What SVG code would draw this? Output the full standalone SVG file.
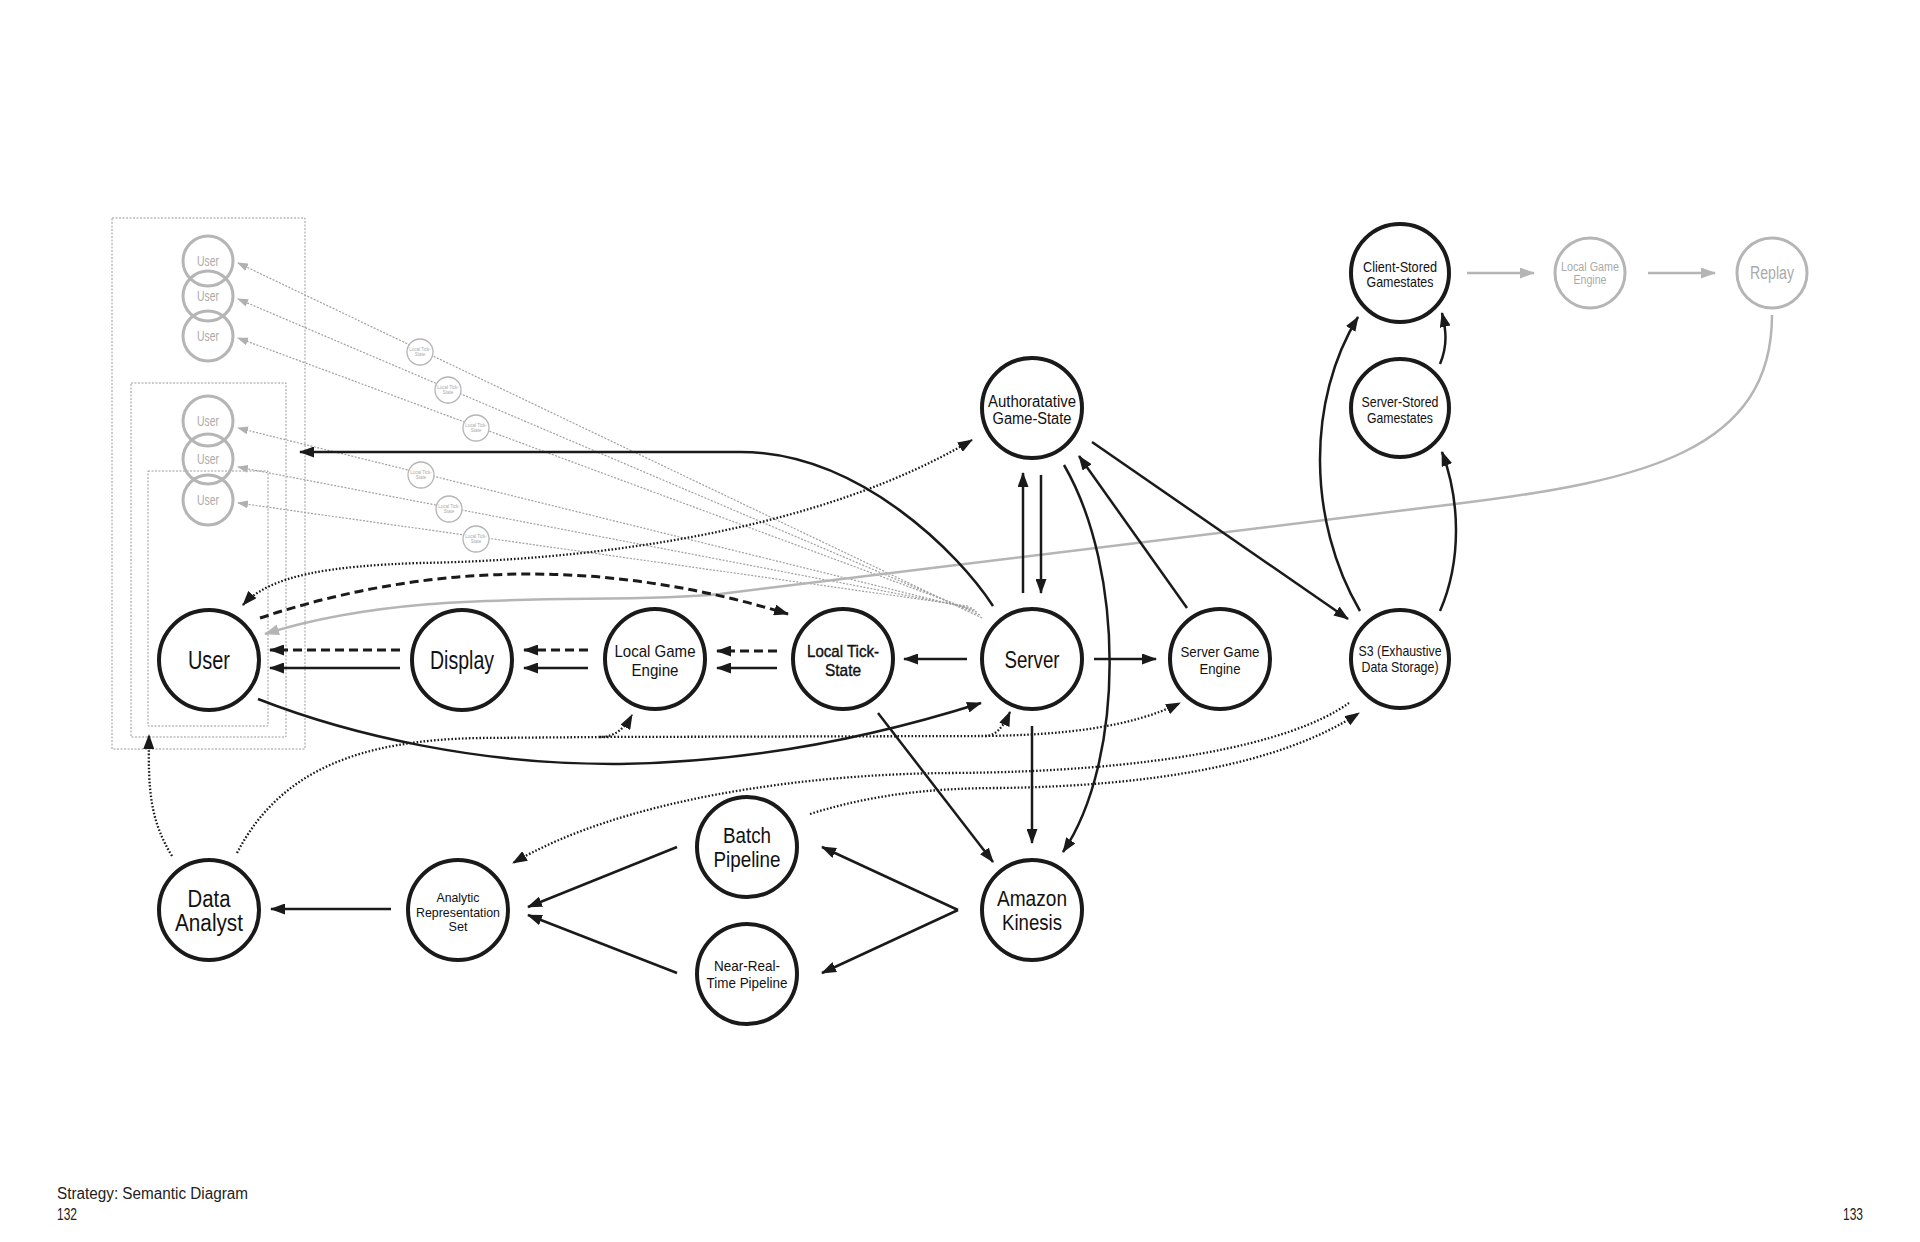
<svg xmlns="http://www.w3.org/2000/svg" width="1920" height="1242" viewBox="0 0 1920 1242">
<style>
.bg{fill:#fff}
.node circle{fill:#fff;stroke:#1a1a1a;stroke-width:4}
.gnode circle{fill:none;stroke:#b5b5b5;stroke-width:3}
.tnode circle{fill:#fff;stroke:#b5b5b5;stroke-width:1.3}
.lbl{font-family:"Liberation Sans",Arial,sans-serif;fill:#111;text-anchor:middle}
.glbl{font-family:"Liberation Sans",Arial,sans-serif;fill:#aaa;text-anchor:middle}
.tlbl{font-family:"Liberation Sans",Arial,sans-serif;fill:#aaa;text-anchor:middle;font-size:4.5px}
.ln{fill:none;stroke:#1a1a1a;stroke-width:2.5}
.dash{stroke-dasharray:9 5;stroke-width:3}
.dot{stroke-dasharray:1.6 1.9;stroke-width:2.3}
.gln{fill:none;stroke:#b5b5b5;stroke-width:2.5}
.gdot{fill:none;stroke:#a0a0a0;stroke-width:1.2;stroke-dasharray:2 1.5}
.box{fill:none;stroke:#9a9a9a;stroke-width:1;stroke-dasharray:2 1.5}
.foot{font-family:"Liberation Sans",Arial,sans-serif;fill:#222;font-size:16px}
</style>
<defs>
<marker id="ah" markerUnits="userSpaceOnUse" viewBox="0 0 15 11" markerWidth="15" markerHeight="11" refX="14" refY="5.5" orient="auto-start-reverse"><path d="M0,0 L15,5.5 L0,11 z" fill="#1a1a1a"/></marker>
<marker id="ahg" markerUnits="userSpaceOnUse" viewBox="0 0 15 11" markerWidth="15" markerHeight="11" refX="14" refY="5.5" orient="auto-start-reverse"><path d="M0,0 L15,5.5 L0,11 z" fill="#b5b5b5"/></marker>
<marker id="ahs" markerUnits="userSpaceOnUse" viewBox="0 0 11 8" markerWidth="11" markerHeight="8" refX="10" refY="4" orient="auto"><path d="M0,0 L11,4 L0,8 z" fill="#b0b0b0"/></marker>
</defs>
<rect class="bg" x="0" y="0" width="1920" height="1242"/>

<g id="boxes">
<rect class="box" x="112" y="218" width="193" height="531"/>
<rect class="box" x="131" y="383" width="155" height="354"/>
<rect class="box" x="148" y="471" width="120" height="255"/>
</g>

<g id="connectors">
<!-- gray dotted server -> gray users -->
<path class="gdot" d="M982,618 L238,263" marker-end="url(#ahs)"/>
<path class="gdot" d="M980,615 L238,299" marker-end="url(#ahs)"/>
<path class="gdot" d="M977,612 L238,338" marker-end="url(#ahs)"/>
<path class="gdot" d="M975,610 L238,428" marker-end="url(#ahs)"/>
<path class="gdot" d="M972,608 L238,467" marker-end="url(#ahs)"/>
<path class="gdot" d="M968,606 L238,503" marker-end="url(#ahs)"/>

<!-- gray replay chain -->
<path class="gln" d="M1467,273 L1534,273" marker-end="url(#ahg)"/>
<path class="gln" d="M1648,273 L1715,273" marker-end="url(#ahg)"/>
<path class="gln" d="M1772,315 C1772,450 1645,481 1455,504 L720,594 C600,606 420,585 265,634" marker-end="url(#ahg)"/>

<!-- horizontal row -->
<path class="ln dash" d="M400,650 L270,650" marker-end="url(#ah)"/>
<path class="ln" d="M400,668 L270,668" marker-end="url(#ah)"/>
<path class="ln dash" d="M588,650 L524,650" marker-end="url(#ah)"/>
<path class="ln" d="M588,668 L524,668" marker-end="url(#ah)"/>
<path class="ln dash" d="M777,651 L717,651" marker-end="url(#ah)"/>
<path class="ln" d="M777,668 L717,668" marker-end="url(#ah)"/>
<path class="ln" d="M967,659 L904,659" marker-end="url(#ah)"/>
<path class="ln" d="M1094,659 L1156,659" marker-end="url(#ah)"/>

<!-- server / auth -->
<path class="ln" d="M1023,593 L1023,473" marker-end="url(#ah)"/>
<path class="ln" d="M1041,475 L1041,593" marker-end="url(#ah)"/>
<path class="ln" d="M1032,726 L1032,843" marker-end="url(#ah)"/>
<path class="ln" d="M1064,465 C1125,570 1125,760 1063,852" marker-end="url(#ah)"/>
<path class="ln" d="M1187,608 L1079,456" marker-end="url(#ah)"/>
<path class="ln" d="M1092,442 L1348,619" marker-end="url(#ah)"/>
<path class="ln" d="M878,713 L993,862" marker-end="url(#ah)"/>

<!-- S3 / stored -->
<path class="ln" d="M1360,611 C1307,520 1307,400 1358,317" marker-end="url(#ah)"/>
<path class="ln" d="M1440,611 C1462,560 1460,500 1442,452" marker-end="url(#ah)"/>
<path class="ln" d="M1440,364 C1448,345 1446,330 1442,313" marker-end="url(#ah)"/>

<!-- server -> user (top) -->
<path class="ln" d="M993,606 C960,555 860,452 740,452 L300,452" marker-end="url(#ah)"/>
<!-- user -> local tick dashed -->
<path class="ln dash" d="M260,618 Q520,532 788,614" marker-end="url(#ah)"/>
<!-- user <-> auth dotted -->
<path class="ln dot" d="M243,605 C270,575 330,566 420,563 C600,560 820,530 972,440" marker-start="url(#ah)" marker-end="url(#ah)"/>
<!-- user -> server solid -->
<path class="ln" d="M258,699 C350,735 480,765 620,764 C760,762 880,735 981,703" marker-end="url(#ah)"/>

<!-- data analyst dotted -->
<path class="ln dot" d="M172,856 C150,820 148,790 149,735" marker-end="url(#ah)"/>
<path class="ln dot" d="M237,853 C280,770 360,740 480,738 L600,737 C615,737 625,728 632,715" marker-end="url(#ah)"/>
<path class="ln dot" d="M600,737 L985,736 C995,736 1003,728 1010,712" marker-end="url(#ah)"/>
<path class="ln dot" d="M985,736 C1060,735 1130,728 1180,703" marker-end="url(#ah)"/>

<!-- S3 <-> pipelines dotted -->
<path class="ln dot" d="M1349,703 C1290,745 1150,772 950,773 C800,774 620,800 513,863" marker-end="url(#ah)"/>
<path class="ln dot" d="M810,814 C870,795 930,788 1000,788 C1150,786 1280,765 1359,713" marker-end="url(#ah)"/>

<!-- pipelines -->
<path class="ln" d="M677,847 L528,907" marker-end="url(#ah)"/>
<path class="ln" d="M677,973 L528,915" marker-end="url(#ah)"/>
<path class="ln" d="M958,910 L822,847" marker-end="url(#ah)"/>
<path class="ln" d="M958,910 L822,973" marker-end="url(#ah)"/>
<path class="ln" d="M391,909 L271,909" marker-end="url(#ah)"/>
</g>

<g id="gray-users">
<g id="guser1" class="gnode"><circle cx="208" cy="261" r="25"/><text class="glbl" x="208" y="266" font-size="14" textLength="22" lengthAdjust="spacingAndGlyphs">User</text></g>
<g id="guser2" class="gnode"><circle cx="208" cy="296" r="25"/><text class="glbl" x="208" y="301" font-size="14" textLength="22" lengthAdjust="spacingAndGlyphs">User</text></g>
<g id="guser3" class="gnode"><circle cx="208" cy="336" r="25"/><text class="glbl" x="208" y="341" font-size="14" textLength="22" lengthAdjust="spacingAndGlyphs">User</text></g>
<g id="guser4" class="gnode"><circle cx="208" cy="421" r="25"/><text class="glbl" x="208" y="426" font-size="14" textLength="22" lengthAdjust="spacingAndGlyphs">User</text></g>
<g id="guser5" class="gnode"><circle cx="208" cy="459" r="25"/><text class="glbl" x="208" y="464" font-size="14" textLength="22" lengthAdjust="spacingAndGlyphs">User</text></g>
<g id="guser6" class="gnode"><circle cx="208" cy="500" r="25"/><text class="glbl" x="208" y="505" font-size="14" textLength="22" lengthAdjust="spacingAndGlyphs">User</text></g>
</g>

<g id="tick-states">
<g id="tick1" class="tnode"><circle cx="420" cy="352" r="13"/><text class="tlbl" x="420" y="351">Local Tick-</text><text class="tlbl" x="420" y="356">State</text></g>
<g id="tick2" class="tnode"><circle cx="448" cy="390" r="13"/><text class="tlbl" x="448" y="389">Local Tick-</text><text class="tlbl" x="448" y="394">State</text></g>
<g id="tick3" class="tnode"><circle cx="476" cy="428" r="13"/><text class="tlbl" x="476" y="427">Local Tick-</text><text class="tlbl" x="476" y="432">State</text></g>
<g id="tick4" class="tnode"><circle cx="421" cy="475" r="13"/><text class="tlbl" x="421" y="474">Local Tick-</text><text class="tlbl" x="421" y="479">State</text></g>
<g id="tick5" class="tnode"><circle cx="449" cy="509" r="13"/><text class="tlbl" x="449" y="508">Local Tick-</text><text class="tlbl" x="449" y="513">State</text></g>
<g id="tick6" class="tnode"><circle cx="476" cy="539" r="13"/><text class="tlbl" x="476" y="538">Local Tick-</text><text class="tlbl" x="476" y="543">State</text></g>
</g>

<g id="user" class="node"><circle cx="209" cy="660" r="50"/><text class="lbl" x="209" y="669" font-size="25" textLength="42" lengthAdjust="spacingAndGlyphs">User</text></g>
<g id="display" class="node"><circle cx="462" cy="660" r="50"/><text class="lbl" x="462" y="669" font-size="25" textLength="64" lengthAdjust="spacingAndGlyphs">Display</text></g>
<g id="local-game-engine" class="node"><circle cx="655" cy="659" r="50"/><text class="lbl" x="655" y="657" font-size="17" textLength="81" lengthAdjust="spacingAndGlyphs">Local Game</text><text class="lbl" x="655" y="676" font-size="17" textLength="47" lengthAdjust="spacingAndGlyphs">Engine</text></g>
<g id="local-tick-state" class="node"><circle cx="843" cy="659" r="50"/><text class="lbl" x="843" y="657" font-size="17" stroke="#111" stroke-width="0.4" textLength="72" lengthAdjust="spacingAndGlyphs">Local Tick-</text><text class="lbl" x="843" y="676" font-size="17" stroke="#111" stroke-width="0.4" textLength="36" lengthAdjust="spacingAndGlyphs">State</text></g>
<g id="server" class="node"><circle cx="1032" cy="659" r="50"/><text class="lbl" x="1032" y="668" font-size="24" textLength="55" lengthAdjust="spacingAndGlyphs">Server</text></g>
<g id="server-game-engine" class="node"><circle cx="1220" cy="659" r="50"/><text class="lbl" x="1220" y="657" font-size="15" textLength="79" lengthAdjust="spacingAndGlyphs">Server Game</text><text class="lbl" x="1220" y="674" font-size="15" textLength="41" lengthAdjust="spacingAndGlyphs">Engine</text></g>
<g id="s3" class="node"><circle cx="1400" cy="659" r="49"/><text class="lbl" x="1400" y="656" font-size="15" textLength="83" lengthAdjust="spacingAndGlyphs">S3 (Exhaustive</text><text class="lbl" x="1400" y="672" font-size="15" textLength="77" lengthAdjust="spacingAndGlyphs">Data Storage)</text></g>
<g id="authoratative-game-state" class="node"><circle cx="1032" cy="408" r="50"/><text class="lbl" x="1032" y="407" font-size="16" textLength="88" lengthAdjust="spacingAndGlyphs">Authoratative</text><text class="lbl" x="1032" y="424" font-size="16" textLength="79" lengthAdjust="spacingAndGlyphs">Game-State</text></g>
<g id="server-stored" class="node"><circle cx="1400" cy="408" r="49"/><text class="lbl" x="1400" y="407" font-size="15" textLength="77" lengthAdjust="spacingAndGlyphs">Server-Stored</text><text class="lbl" x="1400" y="423" font-size="15" textLength="66" lengthAdjust="spacingAndGlyphs">Gamestates</text></g>
<g id="client-stored" class="node"><circle cx="1400" cy="273" r="49"/><text class="lbl" x="1400" y="272" font-size="15" textLength="74" lengthAdjust="spacingAndGlyphs">Client-Stored</text><text class="lbl" x="1400" y="287" font-size="15" textLength="67" lengthAdjust="spacingAndGlyphs">Gamestates</text></g>
<g id="local-game-engine-replay" class="gnode"><circle cx="1590" cy="273" r="35"/><text class="glbl" x="1590" y="271" font-size="12" textLength="58" lengthAdjust="spacingAndGlyphs">Local Game</text><text class="glbl" x="1590" y="284" font-size="12" textLength="33" lengthAdjust="spacingAndGlyphs">Engine</text></g>
<g id="replay" class="gnode"><circle cx="1772" cy="273" r="35"/><text class="glbl" x="1772" y="279" font-size="18" textLength="44" lengthAdjust="spacingAndGlyphs">Replay</text></g>
<g id="batch-pipeline" class="node"><circle cx="747" cy="847" r="50"/><text class="lbl" x="747" y="843" font-size="22" textLength="48" lengthAdjust="spacingAndGlyphs">Batch</text><text class="lbl" x="747" y="867" font-size="22" textLength="67" lengthAdjust="spacingAndGlyphs">Pipeline</text></g>
<g id="near-real-time-pipeline" class="node"><circle cx="747" cy="974" r="50"/><text class="lbl" x="747" y="971" font-size="15" textLength="66" lengthAdjust="spacingAndGlyphs">Near-Real-</text><text class="lbl" x="747" y="988" font-size="15" textLength="81" lengthAdjust="spacingAndGlyphs">Time Pipeline</text></g>
<g id="amazon-kinesis" class="node"><circle cx="1032" cy="910" r="50"/><text class="lbl" x="1032" y="906" font-size="22" textLength="70" lengthAdjust="spacingAndGlyphs">Amazon</text><text class="lbl" x="1032" y="930" font-size="22" textLength="60" lengthAdjust="spacingAndGlyphs">Kinesis</text></g>
<g id="data-analyst" class="node"><circle cx="209" cy="910" r="50"/><text class="lbl" x="209" y="907" font-size="23" textLength="43" lengthAdjust="spacingAndGlyphs">Data</text><text class="lbl" x="209" y="931" font-size="23" textLength="68" lengthAdjust="spacingAndGlyphs">Analyst</text></g>
<g id="analytic-representation-set" class="node"><circle cx="458" cy="910" r="50"/><text class="lbl" x="458" y="902" font-size="13" textLength="43" lengthAdjust="spacingAndGlyphs">Analytic</text><text class="lbl" x="458" y="917" font-size="13" textLength="84" lengthAdjust="spacingAndGlyphs">Representation</text><text class="lbl" x="458" y="931" font-size="13" textLength="19" lengthAdjust="spacingAndGlyphs">Set</text></g>

<g id="footer">
<text class="foot" x="57" y="1199" textLength="191" lengthAdjust="spacingAndGlyphs">Strategy: Semantic Diagram</text>
<text class="foot" x="57" y="1220" textLength="20" lengthAdjust="spacingAndGlyphs">132</text>
<text class="foot" x="1843" y="1220" textLength="20" lengthAdjust="spacingAndGlyphs">133</text>
</g>
</svg>
